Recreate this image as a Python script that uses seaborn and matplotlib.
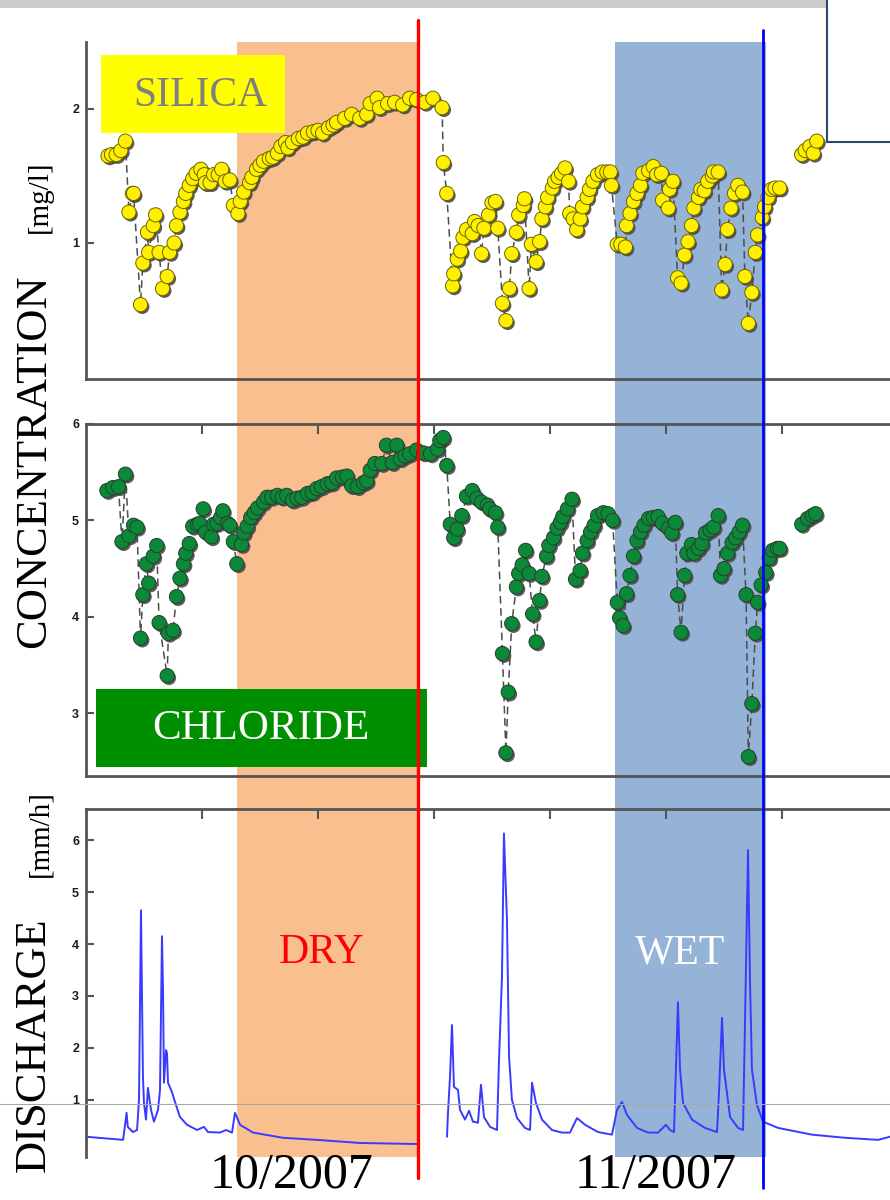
import numpy as np
import pandas as pd
import matplotlib
matplotlib.use("Agg")
import matplotlib.pyplot as plt
import matplotlib.transforms as mtransforms
import matplotlib.patheffects as pe
from matplotlib.patches import Rectangle
from matplotlib.lines import Line2D
import seaborn as sns

sns.set_theme(style="white")
plt.rcParams["font.family"] = ["Liberation Serif", "DejaVu Serif"]

# ---- data (days from start of record) ----
silica_day = [1.9, 2.2, 2.6, 3.0, 3.4, 3.7, 4.0, 4.1, 4.7, 4.9,
              5.3, 5.4, 5.8, 6.0, 6.3, 6.6, 7.0, 7.2, 7.6, 7.8,
              8.1, 8.4, 8.6, 8.9, 9.2, 9.5, 9.9, 10.2, 10.3, 10.7,
              11.0, 11.4, 11.7, 12.0, 12.4, 12.7, 13.1, 13.3, 13.6, 14.1,
              14.3, 14.7, 15.0, 15.3, 15.8, 16.1, 16.5, 16.8, 17.2, 17.4,
              17.8, 18.3, 18.7, 19.1, 19.6, 20.0, 20.4, 20.9, 21.3, 21.6,
              22.3, 22.9, 23.6, 24.2, 24.5, 25.1, 25.3, 26.0, 26.6, 27.3,
              27.9, 28.5, 29.2, 29.9, 30.7, 30.8, 31.1, 31.6, 31.7, 32.0,
              32.3, 32.5, 32.8, 33.3, 33.5, 33.8, 34.1, 34.3, 34.7, 35.0,
              35.3, 35.5, 35.9, 36.2, 36.5, 36.7, 37.1, 37.3, 37.7, 37.8,
              38.2, 38.4, 38.8, 39.1, 39.3, 39.6, 39.8, 40.2, 40.4, 40.7,
              41.0, 41.3, 41.6, 41.7, 42.0, 42.3, 42.6, 42.8, 43.2, 43.4,
              43.7, 44.1, 44.5, 44.9, 45.2, 45.3, 45.8, 46.1, 46.5, 46.6,
              46.9, 47.2, 47.5, 47.8, 48.0, 48.5, 48.9, 49.2, 49.6, 49.7,
              50.2, 50.3, 50.6, 51.0, 51.3, 51.6, 51.9, 52.2, 52.4, 52.8,
              53.0, 53.3, 53.6, 54.0, 54.1, 54.5, 54.8, 55.1, 55.3, 55.6,
              55.9, 56.2, 56.6, 56.8, 57.1, 57.4, 57.7, 57.9, 58.3, 58.5,
              58.8, 59.1, 59.4, 59.8, 61.7, 62.0, 62.4, 62.7, 63.0]
silica_mgl = [1.65, 1.66, 1.66, 1.69, 1.76, 1.23, 1.37, 1.37, 0.54, 0.85,
              1.08, 0.93, 1.13, 1.21, 0.93, 0.66, 0.75, 0.93, 1.00, 1.13,
              1.23, 1.31, 1.37, 1.43, 1.48, 1.52, 1.55, 1.51, 1.45, 1.45,
              1.51, 1.51, 1.55, 1.46, 1.47, 1.28, 1.22, 1.31, 1.38, 1.45,
              1.49, 1.55, 1.58, 1.61, 1.63, 1.64, 1.67, 1.72, 1.75, 1.71,
              1.75, 1.78, 1.79, 1.82, 1.83, 1.84, 1.82, 1.86, 1.88, 1.90,
              1.93, 1.96, 1.93, 1.96, 2.04, 2.08, 2.01, 2.04, 2.05, 2.03,
              2.08, 2.07, 2.05, 2.08, 2.01, 1.60, 1.37, 0.68, 0.77, 0.88,
              0.94, 1.04, 1.10, 1.07, 1.16, 1.13, 0.92, 1.11, 1.21, 1.30,
              1.31, 1.11, 0.55, 0.42, 0.66, 0.92, 1.08, 1.21, 1.28, 1.33,
              0.66, 0.99, 0.86, 1.01, 1.18, 1.27, 1.34, 1.41, 1.46, 1.49,
              1.52, 1.56, 1.46, 1.22, 1.18, 1.10, 1.18, 1.27, 1.34, 1.40,
              1.46, 1.51, 1.53, 1.53, 1.53, 1.43, 0.99, 0.99, 0.97, 1.13,
              1.22, 1.31, 1.37, 1.43, 1.52, 1.54, 1.57, 1.51, 1.52, 1.32,
              1.26, 1.40, 1.46, 0.74, 0.70, 0.91, 1.01, 1.13, 1.26, 1.34,
              1.40, 1.39, 1.46, 1.50, 1.53, 1.53, 0.65, 0.84, 1.10, 1.26,
              1.37, 1.43, 1.38, 0.75, 0.40, 0.63, 0.93, 1.06, 1.19, 1.27,
              1.34, 1.40, 1.41, 1.41, 1.66, 1.69, 1.72, 1.67, 1.76]

chloride_day = [1.8, 2.3, 2.8, 3.1, 3.4, 3.7, 4.1, 4.4, 4.7, 4.9,
                5.2, 5.4, 5.8, 6.1, 6.3, 7.0, 7.1, 7.5, 7.8, 8.1,
                8.4, 8.6, 8.9, 9.2, 9.6, 9.8, 10.1, 10.3, 10.8, 11.0,
                11.3, 11.6, 11.8, 12.2, 12.4, 12.7, 13.0, 13.4, 13.6, 13.9,
                14.2, 14.5, 14.8, 15.3, 15.6, 16.0, 16.5, 16.9, 17.3, 17.8,
                18.2, 18.6, 19.1, 19.5, 19.9, 20.3, 20.8, 21.2, 21.6, 22.1,
                22.5, 22.9, 23.4, 23.9, 24.2, 24.5, 24.9, 25.5, 25.9, 26.4,
                26.8, 27.1, 27.5, 27.9, 28.5, 29.1, 29.7, 30.3, 30.5, 30.8,
                31.1, 31.4, 31.7, 32.0, 32.4, 32.8, 33.3, 33.7, 34.1, 34.6,
                34.8, 35.3, 35.5, 35.9, 36.2, 36.4, 36.7, 37.1, 37.3, 37.6,
                37.9, 38.2, 38.5, 38.8, 39.1, 39.3, 39.7, 39.9, 40.3, 40.6,
                40.9, 41.1, 41.5, 41.9, 42.2, 42.6, 42.8, 43.2, 43.5, 43.8,
                44.1, 44.6, 45.0, 45.4, 45.8, 46.0, 46.3, 46.6, 46.9, 47.2,
                47.5, 47.8, 48.1, 48.5, 48.9, 49.3, 49.7, 50.2, 50.5, 50.8,
                51.0, 51.3, 51.6, 51.8, 52.2, 52.4, 52.8, 53.1, 53.4, 53.8,
                54.1, 54.5, 54.7, 55.0, 55.3, 55.7, 56.0, 56.3, 56.6, 56.9,
                57.1, 57.4, 57.7, 57.9, 58.2, 58.6, 58.9, 59.2, 59.6, 59.8,
                61.7, 62.2, 62.6, 62.9]
chloride_mgl = [5.31, 5.34, 5.35, 4.78, 5.48, 4.84, 4.95, 4.93, 3.78, 4.23,
                4.55, 4.35, 4.63, 4.74, 3.94, 3.39, 3.83, 3.86, 4.21, 4.40,
                4.55, 4.66, 4.76, 4.94, 4.96, 4.97, 5.12, 4.88, 4.83, 4.96,
                4.97, 5.03, 5.10, 4.97, 4.95, 4.78, 4.55, 4.75, 4.87, 4.94,
                5.03, 5.08, 5.13, 5.19, 5.24, 5.24, 5.26, 5.24, 5.26, 5.21,
                5.23, 5.24, 5.28, 5.29, 5.33, 5.35, 5.38, 5.39, 5.44, 5.45,
                5.46, 5.36, 5.35, 5.39, 5.41, 5.52, 5.59, 5.59, 5.78, 5.60,
                5.78, 5.64, 5.67, 5.69, 5.73, 5.70, 5.69, 5.74, 5.83, 5.86,
                5.57, 4.96, 4.82, 4.91, 5.05, 5.25, 5.31, 5.23, 5.19, 5.16,
                5.12, 5.08, 4.93, 3.62, 2.59, 3.22, 3.93, 4.31, 4.45, 4.54,
                4.69, 4.45, 4.03, 3.74, 4.17, 4.42, 4.63, 4.74, 4.82, 4.92,
                4.98, 5.04, 5.12, 5.22, 4.39, 4.48, 4.66, 4.79, 4.88, 4.95,
                5.05, 5.08, 5.07, 5.00, 4.15, 3.99, 3.91, 4.24, 4.43, 4.63,
                4.79, 4.88, 4.95, 5.02, 5.03, 5.04, 4.97, 4.92, 4.87, 4.98,
                4.23, 3.84, 4.43, 4.66, 4.75, 4.66, 4.71, 4.76, 4.87, 4.90,
                4.93, 5.05, 4.43, 4.50, 4.66, 4.77, 4.82, 4.88, 4.95, 4.23,
                2.55, 3.10, 3.83, 4.15, 4.33, 4.46, 4.61, 4.69, 4.71, 4.71,
                4.96, 5.02, 5.05, 5.07]

discharge_day = [0.0, 3.2, 3.5, 3.6, 4.05, 4.4, 4.57, 4.74, 4.91, 5.0,
                 5.17, 5.34, 5.6, 5.86, 6.21, 6.38, 6.55, 6.64, 6.72, 6.9,
                 6.98, 7.07, 7.41, 7.67, 8.1, 8.71, 9.57, 10.17, 10.52, 11.55,
                 12.07, 12.59, 12.84, 13.28, 14.4, 16.98, 19.91, 23.62, 28.53,
                 31.12, 31.21, 31.38, 31.55, 31.72, 32.07, 32.24, 32.67, 33.02, 33.36,
                 33.79, 34.05, 34.31, 34.83, 35.43, 35.6, 35.86, 36.03, 36.29, 36.47,
                 36.72, 37.16, 37.84, 38.28, 38.45, 38.79, 39.31, 40.17, 41.03, 41.72,
                 42.33, 43.02, 44.14, 45.34, 45.78, 46.21, 46.64, 47.5, 48.45, 49.31,
                 50.0, 50.34, 50.69, 51.03, 51.21, 51.47, 52.24, 53.36, 54.4, 54.57,
                 54.83, 55.0, 55.52, 56.21, 56.64, 56.81, 57.07, 57.24, 57.41, 57.84,
                 58.36, 59.66, 62.59, 65.43, 68.28, 69.31]
discharge_mmh = [0.29, 0.23, 0.75, 0.48, 0.38, 0.42, 1.0, 4.65, 1.44, 0.94,
                 0.62, 1.23, 0.81, 0.58, 0.81, 1.19, 4.15, 3.12, 1.33, 1.96,
                 1.90, 1.33, 1.15, 0.96, 0.67, 0.52, 0.42, 0.48, 0.38, 0.37,
                 0.42, 0.37, 0.75, 0.52, 0.37, 0.27, 0.23, 0.17, 0.15,
                 0.29, 0.77, 1.44, 2.44, 1.25, 1.19, 0.81, 0.62, 0.79, 0.58,
                 0.56, 1.29, 0.67, 0.48, 0.42, 1.73, 3.37, 6.13, 4.46, 1.83,
                 1.0, 0.65, 0.46, 0.42, 1.33, 0.94, 0.62, 0.42, 0.37, 0.37,
                 0.65, 0.52, 0.38, 0.33, 0.81, 0.96, 0.71, 0.46, 0.37, 0.37,
                 0.52, 0.42, 0.38, 2.88, 1.58, 0.94, 0.62, 0.46, 0.38, 1.15,
                 2.58, 1.58, 0.67, 0.46, 0.42, 2.48, 5.81, 3.31, 1.58, 0.90,
                 0.58, 0.46, 0.33, 0.27, 0.23, 0.29]

sample_gap = 60.5      # samplers offline between these records
gauge_gap = 30.0       # gauge record missing around here
dry_period = (13.02, 28.62)
wet_period = (45.6, 58.62)
dry_marker = 28.62
wet_marker = 58.36
day_ticks = [10, 20, 30, 40, 50, 60]
silica_ticks = [1, 2]
chloride_ticks = [3, 4, 5, 6]
discharge_ticks = [1, 2, 3, 4, 5, 6]

si = pd.DataFrame({"day": silica_day, "conc": silica_mgl})
si["seg"] = (si["day"] > sample_gap).astype(int)
cl = pd.DataFrame({"day": chloride_day, "conc": chloride_mgl})
cl["seg"] = (cl["day"] > sample_gap).astype(int)
q = pd.DataFrame({"day": discharge_day, "q": discharge_mmh})
q["seg"] = (q["day"] > gauge_gap).astype(int)

W, H = 890, 1200
fig = plt.figure(figsize=(W / 100, H / 100), dpi=100)


def px_box(l, t, r, b):
    return [l / W, 1 - b / H, (r - l) / W, (b - t) / H]


ax_si = fig.add_axes(px_box(86, 42, 890, 379))
ax_cl = fig.add_axes(px_box(86, 424, 890, 776))
ax_q = fig.add_axes(px_box(86, 809, 890, 1157))

xmax = (890 - 86) / 11.6
spine_col = "#555555"
shadow = [pe.SimplePatchShadow(offset=(1.3, -1.6), shadow_rgbFace="#4a4a4a", alpha=0.9), pe.Normal()]

# silica
sns.lineplot(data=si, x="day", y="conc", units="seg", estimator=None, ax=ax_si,
             color="#4d4d4d", lw=1.1, linestyle=(0, (5, 3)), zorder=2)
sns.scatterplot(data=si, x="day", y="conc", ax=ax_si, color="#fff000", s=105,
                edgecolor="#6e6400", linewidth=0.7, zorder=3, path_effects=shadow)
ax_si.set_ylim(-0.015, 2.5)

# chloride
sns.lineplot(data=cl, x="day", y="conc", units="seg", estimator=None, ax=ax_cl,
             color="#4d4d4d", lw=1.1, linestyle=(0, (5, 3)), zorder=2)
sns.scatterplot(data=cl, x="day", y="conc", ax=ax_cl, color="#0a8a38", s=105,
                edgecolor="#2d3d2d", linewidth=0.7, zorder=3, path_effects=shadow)
ax_cl.set_ylim(2.35, 6.0)

# discharge
sns.lineplot(data=q, x="day", y="q", units="seg", estimator=None, ax=ax_q,
             color="#3a3aff", lw=1.4, zorder=2)
ax_q.set_ylim(-0.1, 6.6)

for ax, ticks, spines in [(ax_si, silica_ticks, ["left", "bottom"]),
                          (ax_cl, chloride_ticks, ["left", "top", "bottom"]),
                          (ax_q, discharge_ticks, ["left", "top"])]:
    ax.set_facecolor("none")
    ax.set_xlim(0, xmax)
    ax.set_xlabel("")
    ax.set_ylabel("")
    for name, sp in ax.spines.items():
        sp.set_visible(name in spines)
        sp.set_color(spine_col)
        sp.set_linewidth(2.0)
    ax.set_yticks(ticks)
    ax.set_yticklabels([str(t) for t in ticks], fontsize=9, fontweight="bold",
                       family="Liberation Sans", color="#1a1a1a")
    ax.tick_params(axis="y", direction="in", length=6, width=1.5, color=spine_col,
                   left=True, pad=5)
    if "top" in spines:
        ax.xaxis.set_ticks_position("top")
        ax.set_xticks(day_ticks)
        ax.tick_params(axis="x", direction="in", length=7, width=1.5, color=spine_col,
                       labeltop=False, labelbottom=False, top=True, bottom=False)
    else:
        ax.set_xticks([])
    ax.grid(False)

# dry / wet shading across all panels
trans = mtransforms.blended_transform_factory(ax_q.transData, fig.transFigure)
for (a, b), col in [(dry_period, "#f9bf8f"), (wet_period, "#95b3d7")]:
    fig.add_artist(Rectangle((a, 1 - 1157 / H), b - a, (1157 - 42) / H,
                             transform=trans, facecolor=col, edgecolor="none", zorder=-5))

fig.add_artist(Line2D([dry_marker, dry_marker], [1 - 1178 / H, 1 - 20 / H], transform=trans,
                      color="#ff0000", lw=2.4, zorder=6))
fig.add_artist(Line2D([wet_marker, wet_marker], [1 - 1188 / H, 1 - 30 / H], transform=trans,
                      color="#0000ff", lw=2.0, zorder=6))

# thin grey guide line and top decorations
fig.add_artist(Line2D([0, 1], [1 - 1104 / H] * 2, color="#a8a8a8", lw=0.8, zorder=7))
fig.add_artist(Rectangle((0, 1 - 8 / H), 827 / W, 8 / H, facecolor="#cccccc",
                         edgecolor="none", zorder=4))
fig.add_artist(Rectangle((827 / W, 1 - 142 / H), 80 / W, 150 / H, facecolor="white",
                         edgecolor="#2e4a6b", lw=1.5, zorder=4))

# label boxes
fig.add_artist(Rectangle((101 / W, 1 - 133 / H), 184 / W, 78 / H, facecolor="#ffff00",
                         edgecolor="none", zorder=4))
fig.text(200 / W, 1 - 96 / H, "SILICA", color="#7f7f7f", fontsize=30,
         ha="center", va="center", zorder=5)
fig.add_artist(Rectangle((96 / W, 1 - 767 / H), 331 / W, 78 / H, facecolor="#008f00",
                         edgecolor="none", zorder=4))
fig.text(261 / W, 1 - 729 / H, "CHLORIDE", color="white", fontsize=31,
         ha="center", va="center", zorder=5)

fig.text(322 / W, 1 - 953 / H, "DRY", color="#ff0000", fontsize=30, ha="center", va="center")
fig.text(680 / W, 1 - 953 / H, "WET", color="white", fontsize=30, ha="center", va="center")

fig.text(292 / W, 1 - 1199 / H, "10/2007", color="black", fontsize=36, ha="center", va="bottom")
fig.text(656 / W, 1 - 1199 / H, "11/2007", color="black", fontsize=36, ha="center", va="bottom")

fig.text(34 / W, 1 - 461 / H, "CONCENTRATION", rotation=90, fontsize=32,
         ha="center", va="center", color="black")
fig.text(40 / W, 1 - 197 / H, "[mg/l]", rotation=90, fontsize=21,
         ha="center", va="center", color="black")
fig.text(34 / W, 1 - 1045 / H, "DISCHARGE", rotation=90, fontsize=32,
         ha="center", va="center", color="black")
fig.text(40 / W, 1 - 834 / H, "[mm/h]", rotation=90, fontsize=21,
         ha="center", va="center", color="black")

fig.savefig("out.png", dpi=100)
